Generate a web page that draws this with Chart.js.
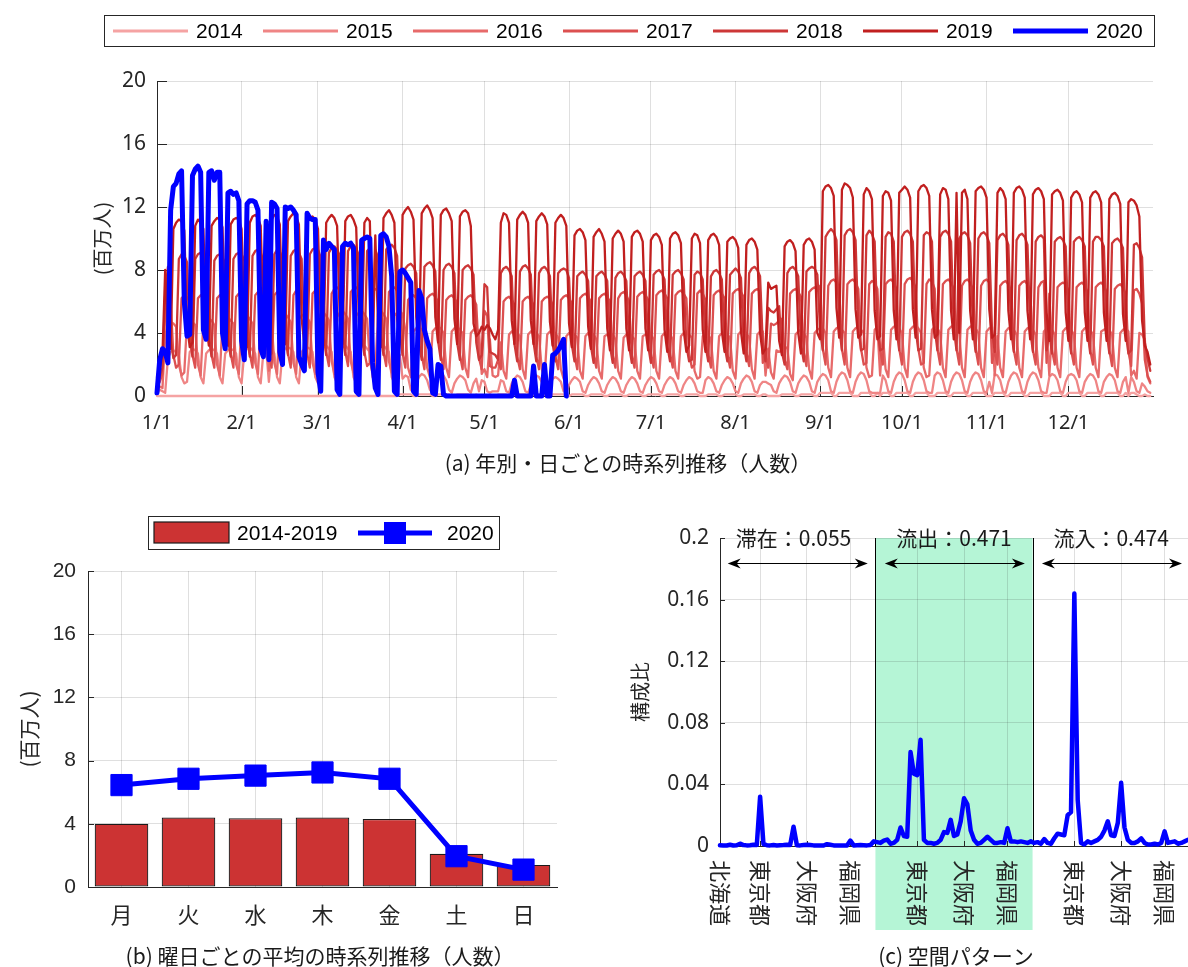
<!DOCTYPE html>
<html lang="ja">
<head>
<meta charset="utf-8">
<title>人数の時系列推移と空間パターン</title>
<script src="https://cdn.jsdelivr.net/npm/chart.js"></script>
<style>
  html, body { margin: 0; padding: 0; background: #ffffff; }
  body { position: relative; width: 1188px; height: 967px; overflow: hidden; }
  canvas { position: absolute; display: block; }
  #dailyChart { left: 0; top: 0; width: 1188px; height: 480px; }
  #weekdayChart { left: 0; top: 486px; width: 590px; height: 481px; }
  #spaceChart { left: 590px; top: 486px; width: 598px; height: 481px; }
</style>
</head>
<body>
<canvas id="dailyChart" width="1188" height="480"></canvas>
<canvas id="weekdayChart" width="590" height="481"></canvas>
<canvas id="spaceChart" width="598" height="481"></canvas>
<script>
// ---------------------------------------------------------------
// (a) daily counts per year, millions of people (day 0 = 1 Jan)
// ---------------------------------------------------------------
const years = ['2014', '2015', '2016', '2017', '2018', '2019', '2020'];
const monthStartDays = [0, 31, 59, 90, 120, 151, 181, 212, 243, 273, 304, 334];
const monthTickLabels = ['1/1', '2/1', '3/1', '4/1', '5/1', '6/1', '7/1', '8/1', '9/1', '10/1', '11/1', '12/1'];

// each row below is one Monday-to-Sunday week (first/last rows partial)
const v2014 = [
0,0,0,0,0,
0,0,0,0,0,0,0,
0,0,0,0,0,0,0,
0,0,0,0,0,0,0,
0,0,0,0,0,0,0,
0,0,0,0,0,0,0,
0,0,0,0,0,0,0,
0,0,0,0,0,0,0,
0,0,0,0,0,0,0,
0,0,0,0,0,0,0,
0,0,0,0,0,0,0,
0,0,0,0,0,0,0,
0,0,0,0,0,0,0,
0.1,0.1,0.1,0.1,0.1,0,0,
0.1,0.1,0.1,0.1,0.1,0,0,
0.1,0.1,0.1,0.1,0.1,0,0,
0.1,0.1,0.1,0.1,0.1,0,0,
0.1,0,0,0,0,0,0,
0,0.1,0.1,0.1,0.1,0,0,
0.1,0.1,0.1,0.1,0.1,0,0,
0.1,0.1,0.1,0.1,0.1,0,0,
0.1,0.1,0.1,0.1,0.1,0,0,
0.1,0.1,0.1,0.1,0.1,0,0,
0.1,0.1,0.1,0.1,0.1,0,0,
0.1,0.1,0.1,0.1,0.1,0,0,
0.1,0.1,0.1,0.1,0.1,0,0,
0.1,0.1,0.1,0.1,0.1,0,0,
0.1,0.1,0.1,0.1,0.1,0,0,
0.1,0.1,0.1,0.1,0.1,0,0,
0,0.1,0.1,0.1,0.1,0,0,
0.1,0.1,0.1,0.1,0.1,0,0,
0.1,0.1,0.1,0.1,0.1,0,0,
0.1,0.1,0,0,0,0,0,
0.1,0.1,0.1,0.1,0.1,0,0,
0.1,0.1,0.1,0.1,0.1,0,0,
0.2,0.2,0.2,0.2,0.2,0,0,
0.2,0.2,0.2,0.2,0.2,0,0,
0,0.2,0.2,0.2,0.2,0,0,
0.2,0,0.2,0.2,0.2,0,0,
0.2,0.2,0.2,0.2,0.2,0,0,
0.2,0.2,0.2,0.2,0.2,0,0,
0,0.2,0.2,0.2,0.2,0,0,
0.2,0.2,0.2,0.2,0.2,0,0,
0.2,0.2,0.2,0.2,0.2,0,0,
0,0.2,0.2,0.2,0.2,0,0,
0.2,0.2,0.2,0.2,0.2,0,0,
0.2,0.2,0.2,0.2,0.2,0,0,
0,0.2,0.2,0.2,0.2,0,0,
0.2,0.2,0.2,0.2,0.2,0,0,
0.2,0.2,0.2,0.2,0.2,0,0,
0.2,0.2,0.2,0.2,0.2,0,0,
0.2,0,0.2,0.2,0.1,0,0,
0.1,0,0
];

const v2015 = [
0.2,0.4,0.3,0.2,
2.4,2.8,2.9,2.8,2.6,1.2,0.8,
0.9,2.8,3.0,2.9,2.7,1.2,0.8,
2.7,2.9,3.0,2.9,2.7,1.2,0.8,
2.7,2.9,3.0,2.9,2.7,1.2,0.8,
2.8,3.0,3.1,2.9,2.7,1.2,0.8,
2.8,3.0,0.9,3.0,2.7,1.2,0.8,
2.8,3.0,3.1,3.0,2.8,1.2,0.8,
2.8,3.0,3.1,3.0,2.8,1.2,0.8,
2.9,3.1,3.2,3.0,2.8,1.2,0.8,
2.9,3.1,3.2,3.0,2.8,1.2,0.8,
2.9,3.1,3.2,3.0,2.8,1.2,0.8,
2.9,3.1,3.2,3.0,2.8,1.2,0.8,
2.8,2.6,1.1,1.3,1.2,0.4,0.2,
0.8,1.2,1.4,1.3,1.0,0.4,0.2,
0.8,1.2,1.4,1.3,1.0,0.4,0.2,
0.8,1.1,1.3,1.2,1.0,0.4,0.2,
0.8,1.1,0.3,1.0,0.9,0.3,0.2,
0.3,0.3,0.3,1.0,0.9,0.3,0.2,
0.8,1.1,1.3,1.2,0.9,0.3,0.2,
0.7,1.1,1.3,1.2,0.9,0.3,0.2,
0.7,1.1,1.2,1.1,0.9,0.3,0.2,
0.7,1.0,1.2,1.1,0.9,0.3,0.2,
0.7,1.0,1.2,1.1,0.8,0.3,0.2,
0.7,1.0,1.2,1.1,0.8,0.3,0.2,
0.7,1.0,1.2,1.1,0.8,0.3,0.2,
0.7,1.0,1.2,1.1,0.8,0.3,0.2,
0.7,1.0,1.2,1.1,0.8,0.3,0.2,
0.7,1.0,1.2,1.1,0.8,0.3,0.2,
0.2,1.0,1.2,1.1,0.8,0.3,0.2,
0.7,1.0,1.2,1.1,0.8,0.3,0.2,
0.8,1.1,1.3,1.2,0.9,0.3,0.2,
0.7,0.9,0.9,0.8,0.7,0.3,0.2,
0.8,1.1,1.3,1.2,0.9,0.3,0.2,
0.8,1.1,1.3,1.2,0.9,0.3,0.2,
0.9,1.2,1.4,1.3,1.0,0.3,0.2,
0.9,1.3,1.5,1.4,1.0,0.3,0.2,
0.9,1.3,1.5,1.4,1.0,0.3,0.2,
0.2,0.2,0.2,1.3,1.0,0.3,0.2,
0.9,1.3,1.5,1.4,1.0,0.3,0.2,
0.9,1.3,1.5,1.4,1.0,0.3,0.2,
0.2,1.3,1.5,1.4,1.0,0.3,0.2,
0.9,1.3,1.5,1.4,1.0,0.3,0.2,
0.9,1.3,1.5,1.4,1.0,0.3,0.2,
0.9,0.2,1.4,1.3,1.0,0.3,0.2,
0.9,1.3,1.5,1.4,1.0,0.3,0.2,
0.9,1.3,1.5,1.4,1.0,0.3,0.2,
0.2,1.2,1.4,1.3,1.0,0.3,0.2,
0.9,1.3,1.4,1.3,1.0,0.3,0.2,
0.9,1.2,1.4,1.3,1.0,0.3,0.2,
0.9,1.2,1.4,1.3,1.0,0.3,0.2,
0.9,1.2,0.2,1.2,0.9,0.3,0.2,
0.8,0.6,0.3,0.2
];

const v2016 = [
0.4,0.6,0.5,
3.8,4.6,4.7,4.6,4.4,2.0,1.3,
1.5,4.7,4.8,4.7,4.5,2.0,1.3,
4.7,4.8,4.9,4.8,4.5,2.0,1.3,
4.7,4.9,5.0,4.8,4.6,2.0,1.4,
4.8,5.0,5.1,4.9,4.6,2.1,1.4,
4.9,5.1,5.2,1.6,4.7,2.1,1.4,
4.9,5.1,5.2,5.0,4.7,2.1,1.4,
4.9,5.1,5.2,5.0,4.7,2.1,1.4,
5.0,5.2,5.3,5.1,4.8,2.2,1.4,
5.0,5.3,5.4,5.2,4.9,2.2,1.5,
5.1,5.3,5.4,5.2,4.9,2.2,1.5,
1.6,5.2,5.4,5.2,4.9,2.2,1.5,
5.1,5.3,5.4,5.2,4.2,1.8,1.2,
4.1,4.3,4.4,4.2,4.0,1.8,1.2,
4.1,4.3,4.4,4.3,4.0,1.8,1.2,
4.1,4.3,4.4,4.2,4.0,1.8,1.2,
4.0,4.2,4.3,4.1,1.4,1.7,1.2,
3.6,1.3,1.2,1.3,3.4,1.6,1.1,
3.9,4.1,4.2,4.0,3.8,1.7,1.1,
3.9,4.1,4.2,4.0,3.8,1.7,1.1,
3.9,4.1,4.1,4.0,3.7,1.7,1.1,
3.8,4.0,4.0,3.9,3.7,1.6,1.1,
3.8,4.0,4.0,3.9,3.6,1.6,1.1,
3.8,3.9,4.0,3.9,3.6,1.6,1.1,
3.7,3.9,4.0,3.8,3.6,1.6,1.1,
3.8,3.9,4.0,3.9,3.6,1.6,1.1,
3.8,4.0,4.0,3.9,3.6,1.6,1.1,
3.8,4.0,4.1,3.9,3.7,1.6,1.1,
1.2,3.8,4.0,3.9,3.6,1.6,1.1,
3.8,4.0,4.1,3.9,3.7,1.6,1.1,
3.9,4.1,4.1,4.0,3.7,1.7,1.1,
3.9,4.1,4.1,1.3,3.0,1.5,1.1,
2.9,2.8,2.9,3.0,3.1,1.4,1.0,
3.9,4.1,4.2,4.0,3.7,1.7,1.1,
4.0,4.2,4.3,4.3,4.0,1.8,1.2,
4.1,4.3,4.4,4.2,4.0,1.8,1.2,
4.1,4.3,4.4,4.2,4.0,1.8,1.2,
1.3,4.2,4.4,1.3,3.9,1.7,1.2,
4.2,4.4,4.5,4.3,4.0,1.8,1.2,
4.2,4.4,4.5,4.3,4.0,1.8,1.2,
1.3,4.2,4.4,4.3,4.0,1.8,1.2,
4.2,4.4,4.5,4.3,4.0,1.8,1.2,
4.2,4.4,4.5,4.3,4.0,1.8,1.2,
4.1,4.3,4.4,1.3,3.8,1.8,1.2,
4.1,4.3,4.4,4.2,3.9,1.8,1.2,
4.1,4.3,4.4,4.2,3.9,1.8,1.2,
4.1,4.3,1.3,4.2,3.9,1.8,1.2,
4.1,4.3,4.4,4.2,3.9,1.8,1.2,
4.1,4.3,4.4,4.2,3.9,1.8,1.2,
4.1,4.2,4.3,4.2,3.9,1.8,1.2,
4.0,4.2,4.3,4.1,1.3,1.6,1.1,
4.0,3.9,3.6,1.2,0.8
];

const v2017 = [
0.6,
0.9,1.4,5.2,6.1,6.0,2.6,1.8,
2.0,6.2,6.4,6.3,6.0,2.6,1.8,
6.2,6.4,6.5,6.3,6.0,2.6,1.8,
6.2,6.4,6.5,6.4,6.0,2.7,1.8,
6.3,6.5,6.6,6.5,6.1,2.7,1.8,
6.4,6.6,6.7,6.5,6.2,2.7,1.8,
6.4,6.6,6.7,6.5,6.2,2.7,1.8,
6.4,6.7,6.8,6.6,6.2,2.7,1.8,
6.5,6.7,6.8,6.6,6.3,2.8,1.9,
6.5,6.8,6.9,6.7,6.3,2.8,1.9,
6.6,6.8,6.9,6.7,6.3,2.8,1.9,
2.1,6.6,6.8,6.7,6.3,2.8,1.9,
6.6,6.8,6.9,6.7,6.3,2.7,1.8,
6.1,6.3,6.4,6.2,5.9,2.6,1.7,
6.2,6.4,6.5,6.3,6.0,2.6,1.7,
6.1,6.3,6.4,6.2,5.9,2.6,1.7,
6.1,6.3,6.4,6.2,5.8,2.4,1.7,
5.4,5.1,1.9,1.8,1.8,2.3,1.7,
6.0,6.2,6.3,6.1,5.8,2.5,1.7,
6.0,6.2,6.3,6.1,5.8,2.5,1.7,
6.0,6.2,6.3,6.2,5.8,2.5,1.7,
6.1,6.3,6.4,6.2,5.9,2.6,1.7,
6.2,6.4,6.5,6.3,6.0,2.6,1.8,
6.2,6.4,6.5,6.3,6.0,2.6,1.8,
6.2,6.5,6.6,6.4,6.0,2.6,1.8,
6.3,6.5,6.6,6.4,6.1,2.7,1.8,
6.4,6.6,6.7,6.5,6.2,2.7,1.8,
6.4,6.6,6.7,6.5,6.2,2.7,1.8,
2.0,6.5,6.7,6.5,6.1,2.7,1.8,
6.4,6.6,6.7,6.5,6.2,2.7,1.8,
6.5,6.7,6.8,6.6,6.3,2.8,1.9,
6.5,6.7,6.8,6.6,2.1,2.6,1.8,
4.6,4.5,4.6,4.8,4.9,2.3,1.7,
6.5,6.7,6.8,6.6,6.3,2.8,1.9,
6.6,6.8,6.9,6.7,7.0,3.0,2.0,
7.0,7.3,7.4,7.2,6.8,3.0,2.0,
7.1,7.3,7.4,7.2,6.8,3.0,2.0,
2.1,7.1,7.3,7.2,6.8,2.9,2.0,
7.1,7.3,7.4,7.2,6.8,3.0,2.0,
7.1,7.4,7.5,7.3,6.9,3.0,2.0,
2.1,7.1,7.4,7.3,6.8,3.0,2.0,
7.1,7.3,7.4,7.2,6.8,3.0,2.0,
7.0,7.3,7.4,7.2,6.8,3.0,2.0,
7.0,7.3,7.4,7.2,2.1,2.9,2.0,
7.0,7.2,7.3,7.1,6.7,2.9,2.0,
7.0,7.2,7.3,7.1,6.7,2.9,2.0,
6.9,7.2,7.3,2.1,6.5,2.9,2.0,
6.9,7.1,7.2,7.1,6.7,2.9,2.0,
6.9,7.1,7.2,7.0,6.6,2.9,2.0,
6.9,7.1,7.2,7.0,6.6,2.9,1.9,
6.8,7.0,7.1,6.9,6.5,2.8,1.9,
6.7,6.8,6.5,5.9,2.3,1.3,0.9
];

const v2018 = [
0.8,1.2,1.8,6.5,8.2,3.6,2.4,
2.6,8.7,9.0,8.9,8.5,3.7,2.5,
8.7,9.0,9.1,8.9,8.4,3.7,2.5,
8.6,8.9,9.0,8.8,8.4,3.7,2.5,
8.7,9.0,9.1,9.0,8.6,3.8,2.5,
8.9,9.2,9.3,9.1,8.6,3.8,2.5,
2.7,9.0,9.3,9.2,8.7,3.8,2.6,
8.9,9.2,9.3,9.1,8.7,3.8,2.5,
9.0,9.3,9.4,9.3,8.8,3.9,2.6,
9.1,9.4,9.5,9.3,8.9,3.9,2.6,
9.2,9.5,9.6,9.4,8.9,3.9,2.6,
9.2,9.4,2.8,9.3,8.8,3.9,2.6,
9.3,9.5,9.6,9.4,8.9,3.9,2.6,
8.1,8.3,8.4,8.2,7.8,3.4,2.3,
8.2,8.4,8.5,8.3,7.9,3.5,2.3,
8.0,8.3,8.4,8.2,7.8,3.4,2.3,
8.0,8.2,8.3,8.1,7.7,3.4,2.3,
2.6,7.1,6.9,2.8,2.7,2.6,2.3,
7.8,8.1,8.2,8.0,7.6,3.3,2.2,
7.9,8.2,8.3,8.1,7.7,3.4,2.2,
7.8,8.1,8.2,8.0,7.6,3.3,2.2,
7.8,8.0,8.1,8.0,7.5,3.3,2.2,
7.6,7.8,7.9,7.7,7.3,3.2,2.1,
7.6,7.8,7.9,7.7,7.3,3.2,2.1,
7.5,7.8,7.9,7.7,7.3,3.2,2.1,
7.6,7.8,7.9,7.7,7.3,3.2,2.1,
7.7,7.9,8.0,7.8,7.4,3.2,2.2,
7.7,7.9,8.0,7.8,7.4,3.2,2.2,
2.3,7.7,7.9,7.8,7.4,3.2,2.2,
7.6,7.9,8.0,7.8,7.4,3.2,2.2,
7.7,7.9,8.1,7.9,7.5,3.3,2.2,
7.8,8.1,8.2,8.0,7.6,3.3,2.2,
5.6,5.4,5.3,5.5,5.7,2.8,2.0,
7.8,8.1,8.2,8.0,7.6,3.3,2.2,
7.9,8.1,8.2,8.1,7.7,4.2,2.9,
10.1,10.4,10.6,10.4,9.9,4.4,2.9,
10.2,10.5,10.6,10.4,9.9,4.3,2.9,
3.0,10.2,10.5,10.3,9.8,4.3,2.9,
3.0,10.1,10.4,10.3,9.8,4.3,2.9,
10.1,10.4,10.5,10.3,9.8,4.3,2.9,
3.0,10.2,10.4,10.3,9.8,4.3,2.9,
10.1,10.4,10.5,10.3,9.8,4.3,2.9,
10.0,10.3,10.4,10.2,9.7,4.3,2.8,
10.0,10.3,10.4,10.2,9.7,4.2,2.8,
9.9,10.2,10.3,10.1,9.6,4.2,2.8,
9.9,10.2,10.3,10.1,9.6,4.2,2.8,
9.8,10.1,10.2,10.0,2.9,4.0,2.7,
9.8,10.0,10.1,9.9,9.5,4.1,2.7,
9.8,10.0,10.1,9.9,9.5,4.1,2.7,
9.8,10.1,10.1,9.9,9.5,4.1,2.7,
9.7,9.9,10.0,9.8,9.4,4.0,2.7,
2.9,9.6,9.7,9.4,8.8,3.4,2.4,
1.6
];

const v2019 = [
1.2,1.8,2.6,8.0,4.0,3.0,
10.6,11.0,11.2,11.1,10.5,4.6,3.1,
3.4,10.8,11.2,11.0,10.6,4.7,3.2,
10.8,11.1,11.3,11.2,10.7,4.8,3.2,
10.9,11.2,11.3,11.2,10.6,4.7,3.1,
11.0,11.4,11.5,11.3,10.8,4.8,3.2,
3.5,11.2,11.5,11.4,10.9,4.8,3.3,
11.1,11.4,11.6,11.4,10.9,4.9,3.3,
11.0,11.3,11.4,11.2,10.6,4.7,3.2,
11.0,11.3,11.5,11.3,10.8,4.8,3.3,
11.1,11.4,11.5,11.2,10.7,4.7,3.2,
11.0,11.3,11.1,3.6,10.2,4.5,3.1,
11.3,11.6,11.8,11.5,11.0,4.9,3.4,
11.5,11.8,12.0,11.7,11.2,5.0,3.4,
11.6,11.9,12.1,11.8,11.3,5.0,3.4,
11.5,11.8,11.9,11.6,11.1,4.9,3.3,
11.4,11.7,11.8,11.6,10.8,4.6,3.8,
4.0,4.4,4.2,4.5,4.3,3.9,3.6,
4.2,11.0,11.6,11.5,11.0,4.8,3.3,
11.2,11.5,11.7,11.5,11.0,4.8,3.3,
11.1,11.4,11.6,11.4,10.9,4.7,3.2,
11.0,11.3,11.5,11.3,10.8,4.6,3.1,
10.2,10.5,10.6,10.4,9.9,4.4,3.0,
10.1,10.4,10.6,10.3,9.8,4.3,2.9,
10.0,10.3,10.5,10.3,9.8,4.3,2.9,
10.1,10.4,10.5,10.3,9.8,4.3,2.9,
9.9,10.2,10.3,10.1,9.6,4.2,2.8,
10.0,10.3,10.4,10.2,9.7,4.2,2.8,
3.2,10.0,10.3,10.2,9.7,4.2,2.8,
9.9,10.2,10.3,10.1,9.6,4.1,2.8,
9.8,10.0,10.1,9.9,9.4,4.1,2.7,
9.6,9.9,10.0,9.8,9.3,4.0,2.7,
3.0,7.2,6.8,6.9,7.0,3.5,2.6,
9.5,9.8,9.9,9.7,9.2,4.0,2.7,
9.6,9.9,10.0,9.8,9.3,4.0,3.6,
13.0,13.3,13.4,13.2,12.7,5.6,3.7,
13.1,13.5,13.4,13.2,12.6,5.5,3.7,
3.9,12.8,13.2,13.0,12.5,5.4,3.6,
3.8,12.7,13.0,12.9,12.4,5.4,3.6,
12.9,13.1,13.3,13.1,12.6,5.5,3.7,
13.0,13.3,13.4,13.2,12.7,5.5,3.7,
3.9,12.8,13.2,13.1,12.5,5.4,3.6,
12.9,4.0,12.9,13.1,12.5,5.4,3.6,
13.0,13.2,13.3,13.1,12.6,5.5,3.7,
3.9,12.9,13.2,13.0,12.5,5.4,3.6,
12.9,13.2,13.3,13.1,12.6,5.4,3.6,
12.8,13.1,13.2,13.0,12.5,5.3,3.5,
12.8,13.0,13.1,12.9,12.4,5.3,3.5,
12.6,12.9,13.0,12.8,12.3,5.3,3.5,
12.6,12.9,13.0,12.8,12.3,5.3,3.5,
12.5,12.8,12.9,12.7,12.2,5.2,3.5,
12.3,12.5,12.4,12.1,11.4,4.8,3.2,
2.8,2.0
];

const v2020 = [
0.2,2.3,3.0,2.8,2.1,
11.8,13.3,13.5,14.1,14.3,6.0,3.8,
3.9,14.0,14.4,14.6,14.2,4.2,3.6,
14.2,14.3,13.7,14.2,14.2,4.0,3.0,
12.9,13.0,12.8,12.9,12.4,3.5,2.3,
12.2,12.4,12.4,12.3,11.8,3.0,2.5,
11.1,2.3,12.3,12.2,11.9,2.8,2.0,
12.0,11.9,12.0,11.8,11.5,2.5,2.0,
1.6,11.6,11.3,11.2,11.2,1.5,0.3,
9.9,9.3,9.7,9.5,9.3,0.4,0.1,
9.5,9.7,9.6,9.7,9.4,0.3,0.1,
9.9,10.0,10.1,10.0,2.1,0.5,0.1,
10.2,10.3,10.1,9.5,7.6,0.3,0.1,
7.9,8.0,7.8,7.5,7.2,0.3,0.1,
6.7,6.2,4.2,3.5,3.0,0.2,0.1,
2.0,1.9,0.1,0,0,0,0,
0,0,0,0,0,0,0,
0,0,0,0,0,0,0,
0,0,0,0,0,0,0,
1.0,0,0,0,0,0,0,
1.9,0,0,0,2.0,0,0,
2.6,2.7,2.9,3.2,3.6,0
];

// ---------------------------------------------------------------
// (b) mean count by day of week, millions of people
// ---------------------------------------------------------------
const weekdayLabels = ['月', '火', '水', '木', '金', '土', '日'];
const weekdayMean2014to2019 = [4.0, 4.4, 4.35, 4.4, 4.3, 2.1, 1.4];
const weekdayMean2020 = [6.45, 6.85, 7.05, 7.25, 6.85, 1.95, 1.1];

// ---------------------------------------------------------------
// (c) share by prefecture: stay (1-47), outflow (48-94), inflow (95-141)
// ---------------------------------------------------------------
const prefectureCount = 47;
const spaceShares = [
0.0005,0.0003,0.0003,0.0008,0.0003,0.0005,0.0015,0.0006,0.0004,0.0005,
0.0008,0.0006,0.032,0.0012,0.0005,0.0004,0.0006,0.0003,0.0005,0.0006,
0.0008,0.0007,0.0125,0.0005,0.0004,0.0006,0.0008,0.0006,0.0004,0.0003,
0.0003,0.0003,0.0012,0.0008,0.0004,0.0003,0.0003,0.0004,0.0003,0.0035,
0.0004,0.0005,0.0006,0.0005,0.0004,0.0006,0.003,
0.0025,0.002,0.0035,0.0042,0.0015,0.002,0.004,0.012,0.0065,0.006,
0.061,0.047,0.046,0.069,0.004,0.002,0.002,0.0015,0.002,0.004,
0.009,0.0085,0.017,0.0065,0.0075,0.016,0.031,0.027,0.010,0.004,
0.0015,0.002,0.004,0.006,0.004,0.002,0.002,0.0025,0.002,0.0115,
0.003,0.003,0.0025,0.003,0.0025,0.002,0.003,
0.002,0.0025,0.0015,0.0045,0.002,0.0015,0.005,0.008,0.0075,0.007,
0.020,0.022,0.164,0.030,0.002,0.001,0.003,0.002,0.003,0.004,
0.006,0.010,0.016,0.007,0.0065,0.015,0.041,0.012,0.004,0.002,
0.002,0.003,0.005,0.002,0.001,0.001,0.0015,0.001,0.002,0.0095,
0.002,0.0025,0.003,0.0015,0.002,0.003,0.004
];
const spaceTickPositions = [1, 13, 27, 40, 60, 74, 87, 107, 121, 134];
const spaceTickLabels = ['北海道', '東京都', '大阪府', '福岡県', '東京都', '大阪府', '福岡県', '東京都', '大阪府', '福岡県'];
const groupNames = ['滞在', '流出', '流入'];
const groupTotals = [0.055, 0.471, 0.474];
const shareTicks = [0, 0.04, 0.08, 0.12, 0.16, 0.2];
const shareTickLabels = ['0', '0.04', '0.08', '0.12', '0.16', '0.2'];

// ---------------------------------------------------------------
// shared styling
// ---------------------------------------------------------------
const INK = '#262626';
const GRID = 'rgba(38, 38, 38, 0.15)';
const CJK = '"Noto Sans CJK JP", "Noto Sans", sans-serif';
const SANS = '"Noto Sans", "Noto Sans CJK JP", sans-serif';
const ARIAL = '"Liberation Sans", Arial, sans-serif';
const yearColors = ['#f5a3a3', '#ef8585', '#e76a6a', '#dc5050', '#cd3737', '#c11f1f', '#0000ff'];

Chart.defaults.font.family = SANS;
Chart.defaults.color = INK;

const fixedSize = px => scale => {
  if (scale.isHorizontal()) scale.height = px; else scale.width = px;
};

// caption line under each panel
function captionPlugin(text, x, y) {
  return {
    id: 'caption',
    afterDraw(chart) {
      const ctx = chart.ctx;
      ctx.save();
      ctx.font = '21px ' + CJK;
      ctx.fillStyle = '#1a1a1a';
      ctx.textAlign = 'center';
      ctx.textBaseline = 'middle';
      ctx.fillText(text, x, y);
      ctx.restore();
    }
  };
}

// short tick marks pointing into the plot area
function innerTickPlugin(axisIds, len) {
  return {
    id: 'innerTicks',
    beforeDatasetsDraw(chart) {
      const {ctx, chartArea: a} = chart;
      ctx.save();
      ctx.strokeStyle = INK;
      ctx.lineWidth = 1;
      axisIds.forEach(id => {
        const s = chart.scales[id];
        s.ticks.forEach(t => {
          const p = Math.round(s.getPixelForValue(t.value)) + 0.5;
          ctx.beginPath();
          if (s.isHorizontal()) { ctx.moveTo(p, a.bottom); ctx.lineTo(p, a.bottom - len); }
          else { ctx.moveTo(a.left, p); ctx.lineTo(a.left + len, p); }
          ctx.stroke();
        });
      });
      ctx.restore();
    }
  };
}

// ---------------------------------------------------------------
// (a) daily series per year
// ---------------------------------------------------------------
const yearSeries = [v2014, v2015, v2016, v2017, v2018, v2019, v2020];

const yearLegend = {
  id: 'yearLegend',
  afterDraw(chart) {
    const ctx = chart.ctx;
    ctx.save();
    ctx.fillStyle = '#ffffff';
    ctx.fillRect(104.5, 15.5, 1050, 31);
    ctx.strokeStyle = INK;
    ctx.lineWidth = 1;
    ctx.strokeRect(104.5, 15.5, 1050, 31);
    ctx.font = '21px ' + ARIAL;
    ctx.textAlign = 'left';
    ctx.textBaseline = 'middle';
    chart.data.datasets.forEach((ds, i) => {
      const x0 = 113 + i * 150;
      ctx.strokeStyle = ds.borderColor;
      ctx.lineWidth = ds.borderWidth > 3 ? 5 : 3;
      ctx.beginPath();
      ctx.moveTo(x0, 31);
      ctx.lineTo(x0 + 75, 31);
      ctx.stroke();
      ctx.fillStyle = '#000000';
      ctx.fillText(ds.label, x0 + 83, 32);
    });
    ctx.restore();
  }
};

new Chart(document.getElementById('dailyChart'), {
  type: 'line',
  data: {
    datasets: years.map((label, k) => ({
      label,
      data: yearSeries[k].map((y, d) => ({x: d, y})),
      borderColor: yearColors[k],
      backgroundColor: yearColors[k],
      borderWidth: k === years.length - 1 ? 5 : 2.3,
      pointRadius: 0,
      tension: 0,
      clip: false,
      borderJoinStyle: 'round',
      borderCapStyle: 'round',
      order: years.length - 1 - k
    }))
  },
  options: {
    responsive: false,
    animation: false,
    devicePixelRatio: 1,
    parsing: false,
    layout: {padding: {top: 81, right: 35, bottom: 0, left: 0}},
    plugins: {legend: {display: false}, tooltip: {enabled: false}},
    scales: {
      x: {
        type: 'linear', min: 0, max: 365,
        afterBuildTicks: s => { s.ticks = monthStartDays.map(v => ({value: v})); },
        afterFit: fixedSize(84),
        ticks: {
          autoSkip: false, maxRotation: 0, minRotation: 0, padding: 15,
          font: {family: SANS, size: 20}, color: INK,
          callback: v => monthTickLabels[monthStartDays.indexOf(v)]
        },
        grid: {color: GRID, drawTicks: false},
        border: {color: INK, width: 1}
      },
      y: {
        min: 0, max: 20,
        afterFit: fixedSize(157),
        ticks: {stepSize: 4, padding: 11, font: {family: SANS, size: 21}, color: INK},
        grid: {color: GRID, drawTicks: false},
        border: {color: INK, width: 1},
        title: {display: true, text: '(百万人)', color: INK, font: {family: CJK, size: 20}, padding: {top: 90, bottom: 0}}
      }
    }
  },
  plugins: [yearLegend, innerTickPlugin(['x', 'y'], 10), captionPlugin('(a) 年別・日ごとの時系列推移（人数）', 628, 463)]
});

// ---------------------------------------------------------------
// (b) weekday means: bars for 2014-2019, line for 2020
// ---------------------------------------------------------------
const weekdayLegend = {
  id: 'weekdayLegend',
  afterDraw(chart) {
    const ctx = chart.ctx;
    const [bars, line] = chart.data.datasets;
    ctx.save();
    ctx.fillStyle = '#ffffff';
    ctx.fillRect(148.5, 30.5, 351, 33);
    ctx.strokeStyle = INK;
    ctx.lineWidth = 1;
    ctx.strokeRect(148.5, 30.5, 351, 33);
    ctx.fillStyle = bars.backgroundColor;
    ctx.fillRect(154, 36, 75, 21);
    ctx.strokeStyle = bars.borderColor;
    ctx.lineWidth = 1.2;
    ctx.strokeRect(154, 36, 75, 21);
    ctx.strokeStyle = line.borderColor;
    ctx.lineWidth = line.borderWidth;
    ctx.beginPath();
    ctx.moveTo(358, 47);
    ctx.lineTo(432, 47);
    ctx.stroke();
    ctx.fillStyle = line.pointBackgroundColor;
    ctx.fillRect(384, 36, 22, 22);
    ctx.font = '21px ' + ARIAL;
    ctx.fillStyle = '#000000';
    ctx.textAlign = 'left';
    ctx.textBaseline = 'middle';
    ctx.fillText(bars.label, 237, 48);
    ctx.fillText(line.label, 447, 48);
    ctx.restore();
  }
};

new Chart(document.getElementById('weekdayChart'), {
  type: 'bar',
  data: {
    labels: weekdayLabels,
    datasets: [
      {
        type: 'bar', label: '2014-2019', data: weekdayMean2014to2019,
        backgroundColor: '#cc3333', borderColor: '#1a1a1a', borderWidth: 1.2,
        borderSkipped: false, barPercentage: 0.8, categoryPercentage: 1.0, order: 1
      },
      {
        type: 'line', label: '2020', data: weekdayMean2020,
        borderColor: '#0000ff', borderWidth: 5, tension: 0, clip: false,
        pointStyle: 'rect', pointRadius: 15, pointBackgroundColor: '#0000ff',
        pointBorderColor: '#0000ff', pointBorderWidth: 1, order: 0
      }
    ]
  },
  options: {
    responsive: false,
    animation: false,
    devicePixelRatio: 1,
    layout: {padding: {top: 85, right: 33, bottom: 0, left: 0}},
    plugins: {legend: {display: false}, tooltip: {enabled: false}},
    scales: {
      x: {
        afterFit: fixedSize(80),
        ticks: {padding: 14, font: {family: CJK, size: 22}, color: INK},
        grid: {color: GRID, drawTicks: false, offset: false},
        border: {color: INK, width: 1}
      },
      y: {
        min: 0, max: 20,
        afterFit: fixedSize(88),
        ticks: {stepSize: 4, padding: 12, font: {family: ARIAL, size: 21}, color: INK},
        grid: {color: GRID, drawTicks: false},
        border: {color: INK, width: 1},
        title: {display: true, text: '(百万人)', color: INK, font: {family: CJK, size: 21}, padding: {top: 16, bottom: 0}}
      }
    }
  },
  plugins: [weekdayLegend, innerTickPlugin(['y'], 6), captionPlugin('(b) 曜日ごとの平均の時系列推移（人数）', 320, 470)]
});

// ---------------------------------------------------------------
// (c) spatial pattern: stay / outflow / inflow blocks
// ---------------------------------------------------------------
const groupEdges = [0.5, prefectureCount + 0.5, 2 * prefectureCount + 0.5, 3 * prefectureCount + 0.5];
const groupLabelPositions = [23, 71, 118];

const spacePattern = {
  id: 'spacePattern',
  beforeDraw(chart) {
    const {ctx, chartArea: a, scales: {x}} = chart;
    const xl = x.getPixelForValue(groupEdges[1]);
    const xr = x.getPixelForValue(groupEdges[2]);
    ctx.save();
    ctx.fillStyle = '#b5f5d6';
    ctx.fillRect(xl, a.top, xr - xl, a.bottom - a.top + 84);
    ctx.restore();
  },
  beforeDatasetsDraw(chart) {
    const {ctx, chartArea: a, scales: {x}} = chart;
    ctx.save();
    ctx.strokeStyle = '#000000';
    ctx.lineWidth = 1;
    [groupEdges[1], groupEdges[2]].forEach(v => {
      const p = Math.round(x.getPixelForValue(v)) + 0.5;
      ctx.beginPath();
      ctx.moveTo(p, a.top);
      ctx.lineTo(p, a.bottom);
      ctx.stroke();
    });
    ctx.restore();
  },
  afterDraw(chart) {
    const {ctx, chartArea: a, scales: {x, y}} = chart;
    ctx.save();
    // double-headed arrows spanning each block, with the block total above
    const ay = Math.round(y.getPixelForValue(0.184)) + 0.5;
    const head = (tip, dir) => {
      ctx.beginPath();
      ctx.moveTo(tip, ay);
      ctx.lineTo(tip + dir * 13, ay - 5);
      ctx.lineTo(tip + dir * 9, ay);
      ctx.lineTo(tip + dir * 13, ay + 5);
      ctx.closePath();
      ctx.fill();
    };
    ctx.strokeStyle = '#000000';
    ctx.fillStyle = '#000000';
    ctx.lineWidth = 1;
    for (let g = 0; g < 3; g++) {
      const x1 = x.getPixelForValue(groupEdges[g] + 2.8);
      const x2 = x.getPixelForValue(groupEdges[g + 1] - 2.3);
      ctx.beginPath();
      ctx.moveTo(x1 + 4, ay);
      ctx.lineTo(x2 - 4, ay);
      ctx.stroke();
      head(x1, 1);
      head(x2, -1);
    }
    ctx.font = '21px ' + CJK;
    ctx.fillStyle = '#1a1a1a';
    ctx.textAlign = 'center';
    ctx.textBaseline = 'middle';
    for (let g = 0; g < 3; g++) {
      ctx.fillText(groupNames[g] + '：' + groupTotals[g].toFixed(3), x.getPixelForValue(groupLabelPositions[g]), a.top);
    }
    // prefecture names, turned to read top to bottom
    ctx.font = '22px ' + CJK;
    ctx.fillStyle = INK;
    ctx.textAlign = 'left';
    spaceTickPositions.forEach((v, i) => {
      ctx.save();
      ctx.translate(x.getPixelForValue(v), a.bottom + 14);
      ctx.rotate(Math.PI / 2);
      ctx.fillText(spaceTickLabels[i], 0, 0);
      ctx.restore();
    });
    ctx.restore();
  }
};

new Chart(document.getElementById('spaceChart'), {
  type: 'line',
  data: {
    datasets: [{
      label: '2020',
      data: spaceShares.map((y, i) => ({x: i + 1, y})),
      borderColor: '#0000ff',
      borderWidth: 4.5,
      pointRadius: 0,
      tension: 0,
      clip: false,
      borderJoinStyle: 'round',
      borderCapStyle: 'round'
    }]
  },
  options: {
    responsive: false,
    animation: false,
    devicePixelRatio: 1,
    parsing: false,
    layout: {padding: {top: 52, right: 0, bottom: 0, left: 0}},
    plugins: {legend: {display: false}, tooltip: {enabled: false}},
    scales: {
      x: {
        type: 'linear', min: 1, max: 3 * prefectureCount,
        afterBuildTicks: s => { s.ticks = spaceTickPositions.map(v => ({value: v})); },
        afterFit: fixedSize(121),
        ticks: {display: false},
        grid: {color: GRID, drawTicks: false},
        border: {color: INK, width: 1}
      },
      y: {
        min: 0, max: 0.2,
        afterBuildTicks: s => { s.ticks = shareTicks.map(v => ({value: v})); },
        afterFit: fixedSize(130),
        ticks: {padding: 11, font: {family: SANS, size: 21}, color: INK,
                callback: v => shareTickLabels[shareTicks.indexOf(v)]},
        grid: {color: GRID, drawTicks: false},
        border: {color: INK, width: 1},
        title: {display: true, text: '構成比', color: INK, font: {family: CJK, size: 20}, padding: {top: 38, bottom: 0}}
      }
    }
  },
  plugins: [spacePattern, innerTickPlugin(['x', 'y'], 5), captionPlugin('(c) 空間パターン', 366, 470)]
});
</script>
</body>
</html>
